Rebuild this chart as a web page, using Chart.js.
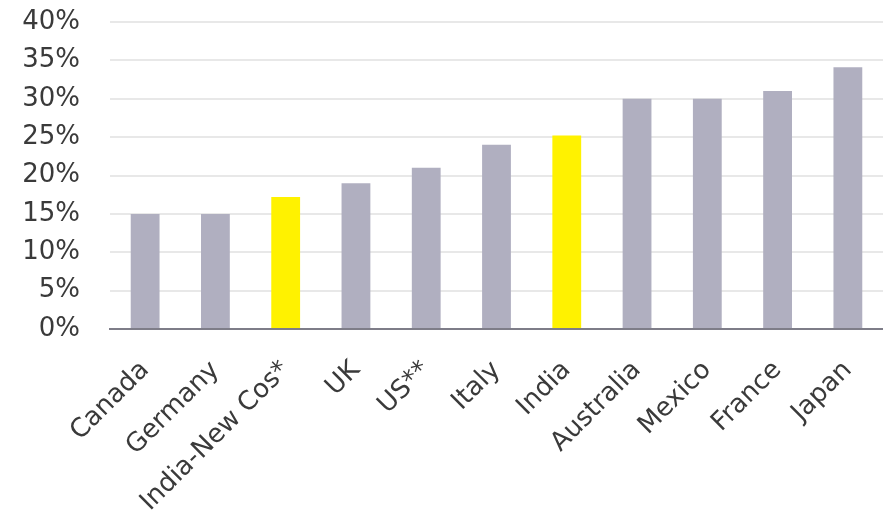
<!DOCTYPE html>
<html>
<head>
  <title>Tax rates by country</title>
  <script src="https://cdn.jsdelivr.net/npm/chart.js"></script>
  <style>
    html, body { margin: 0; padding: 0; background: #fff; }
    #wrap { width: 883px; height: 527px; }
  </style>
</head>
<body>
  <div id="wrap"><canvas id="rateChart"></canvas></div>

  <script>
    // Values (percent)
    const countries = ['Canada', 'Germany', 'India-New Cos*', 'UK', 'US**', 'Italy', 'India', 'Australia', 'Mexico', 'France', 'Japan'];
    const rates = [15, 15, 17.2, 19, 21, 24, 25.2, 30, 30, 31, 34.1];
    const highlighted = ['India-New Cos*', 'India'];
    const yTicks = [0, 5, 10, 15, 20, 25, 30, 35, 40];

    const grey = '#b0afc0';
    const yellow = '#fff200';
    const textColor = '#3a3a3a';
    const font = { family: 'DejaVu Sans', size: 26 };

    const ctx = document.getElementById('rateChart').getContext('2d');
    new Chart(ctx, {
      type: 'bar',
      data: {
        labels: countries,
        datasets: [{
          data: rates,
          backgroundColor: countries.map(c => highlighted.includes(c) ? yellow : grey),
          barPercentage: 0.41,
          categoryPercentage: 1
        }]
      },
      options: {
        responsive: true,
        maintainAspectRatio: false,
        animation: false,
        layout: { padding: { top: 22, right: 0, left: 0, bottom: 0 } },
        plugins: {
          legend: { display: false },
          tooltip: { enabled: false }
        },
        scales: {
          x: {
            grid: { display: false },
            border: { display: true, color: '#7e7d88', width: 2 },
            ticks: {
              color: textColor,
              font: font,
              minRotation: 45,
              maxRotation: 45,
              padding: 18
            },
            afterFit: s => { s.height = 198; s.paddingLeft = 0; s.paddingRight = 0; }
          },
          y: {
            min: 0,
            max: 40,
            afterBuildTicks: s => { s.ticks = yTicks.map(v => ({ value: v })); },
            grid: { color: '#e8e8e8', lineWidth: 2, drawTicks: false },
            border: { display: false },
            ticks: {
              color: textColor,
              font: font,
              padding: 30,
              callback: v => v + '%'
            },
            afterFit: s => { s.width = 110; s.paddingTop = 0; s.paddingBottom = 0; }
          }
        }
      }
    });
  </script>
</body>
</html>
